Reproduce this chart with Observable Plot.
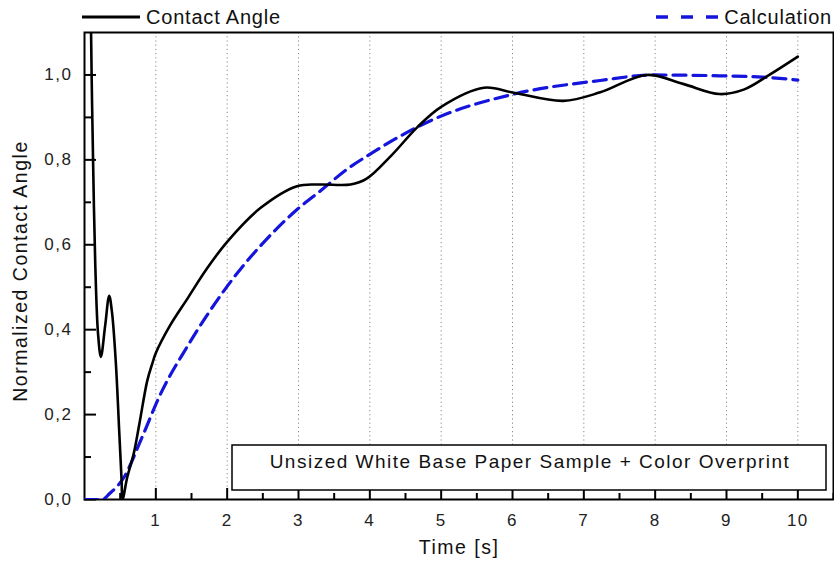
<!DOCTYPE html>
<html>
<head>
<meta charset="utf-8">
<script src="https://cdn.jsdelivr.net/npm/d3@7"></script>
<script src="https://cdn.jsdelivr.net/npm/@observablehq/plot@0.6"></script>
<style>
  body { margin: 0; background: #fff; font-family: "Liberation Sans", Arial, sans-serif; }
  #wrap { position: relative; width: 834px; height: 566px; overflow: hidden; }
  #legend { position: relative; width: 834px; height: 27px; }
  .item { position: absolute; top: 0; height: 34px; display: flex; align-items: center;
          font-size: 20px; letter-spacing: 0.8px; color: #111; }
  .item svg { display: block; margin-right: 4px; }
  #chart svg { display: block; }
</style>
</head>
<body>
<div id="wrap">
  <div id="legend">
    <div class="item" style="left:82px">
      <svg width="60" height="8"><line x1="0" x2="58" y1="4" y2="4" stroke="#000" stroke-width="3"/></svg>
      <span id="lgContact"></span>
    </div>
    <div class="item" style="right:2px">
      <svg width="64" height="8"><line x1="0" x2="62" y1="4" y2="4" stroke="#1414dc" stroke-width="3.5" stroke-dasharray="12,13"/></svg>
      <span id="lgCalc"></span>
    </div>
  </div>
  <div id="chart"></div>
</div>
<script>
// Measured contact angle (normalized) over time
const contactTime = [0.085, 0.1, 0.12, 0.15, 0.19, 0.23, 0.29, 0.346, 0.386, 0.44, 0.486, 0.52, 0.533,
  0.6, 0.69, 0.77, 0.88, 0.95, 1.0, 1.2, 1.45, 1.7, 2.0, 2.47, 2.98, 3.3, 3.73, 3.95, 4.3, 4.66,
  5.0, 5.6, 6.02, 6.71, 7.23, 7.88, 8.39, 8.9, 9.25, 9.6, 10.0];
const contactAngle = [1.2, 1.0, 0.8, 0.56, 0.39, 0.336, 0.41, 0.48, 0.44, 0.32, 0.163, 0.045, 0.0,
  0.053, 0.108, 0.179, 0.28, 0.32, 0.345, 0.41, 0.475, 0.54, 0.607, 0.687, 0.738, 0.742, 0.742, 0.755, 0.81, 0.876,
  0.925, 0.97, 0.958, 0.939, 0.959, 1.0, 0.979, 0.955, 0.966, 1.0, 1.043];

// Model calculation
const calcTime = [0, 0.25, 0.346, 0.556, 0.79, 1.07, 1.44, 2.0, 2.66, 2.98, 3.33, 3.68, 3.96, 4.9,
  6.02, 7.23, 7.97, 8.9, 9.5, 10.0];
const calcAngle = [0, 0, 0.013, 0.053, 0.14, 0.25, 0.36, 0.502, 0.632, 0.683, 0.73, 0.778, 0.809, 0.896,
  0.955, 0.987, 1.0, 0.998, 0.995, 0.988];

const seriesNames = ["Contact Angle", "Calculation"];
const xMajor = [1, 2, 3, 4, 5, 6, 7, 8, 9, 10];
const xMinor = [0.5, 1.5, 2.5, 3.5, 4.5, 5.5, 6.5, 7.5, 8.5, 9.5, 10.5];
const yMajor = [0, 0.2, 0.4, 0.6, 0.8, 1.0];
const yMinor = [0.1, 0.3, 0.5, 0.7, 0.9];
const xTitle = "Time [s]";
const yTitle = "Normalized Contact Angle";
const noteText = "Unsized White Base Paper Sample + Color Overprint";

document.getElementById("lgContact").textContent = seriesNames[0];
document.getElementById("lgCalc").textContent = seriesNames[1];

const contact = contactTime.map((t, i) => ({t, v: contactAngle[i]}));
const calc = calcTime.map((t, i) => ({t, v: calcAngle[i]}));
const comma = d => d.toFixed(1).replace(".", ",");

// plot geometry
const W = 834, H = 539, mT = 5, mB = 67, mL = 84, mR = 1;
const xDomain = [0, 10.5], yDomain = [0, 1.1];
const frameW = W - mL - mR, frameH = H - mT - mB;
// tick lengths: pixels converted to data units so the ticks point into the frame
const pxY = px => px * (yDomain[1] - yDomain[0]) / frameH;
const pxX = px => px * (xDomain[1] - xDomain[0]) / frameW;

const chart = Plot.plot({
  width: W,
  height: H,
  marginTop: mT,
  marginBottom: mB,
  marginLeft: mL,
  marginRight: mR,
  style: {
    fontFamily: '"Liberation Sans", Arial, sans-serif',
    fontSize: "17px",
    letterSpacing: "1.5px",
    color: "#222",
    background: "#fff",
    overflow: "visible"
  },
  x: {domain: xDomain},
  y: {domain: yDomain},
  marks: [
    Plot.gridX(xMajor, {stroke: "#8a8a8a", strokeOpacity: 1, strokeWidth: 1, strokeDasharray: "1.2,3"}),
    Plot.frame({stroke: "#000", strokeWidth: 2}),
    // inward ticks along the bottom and left edges
    Plot.ruleX(xMajor, {x: d => d, y1: () => yDomain[0], y2: () => yDomain[0] + pxY(11), stroke: "#000", strokeWidth: 2}),
    Plot.ruleX(xMinor, {x: d => d, y1: () => yDomain[0], y2: () => yDomain[0] + pxY(6), stroke: "#000", strokeWidth: 2}),
    Plot.ruleY(yMajor, {y: d => d, x1: () => xDomain[0], x2: () => xDomain[0] + pxX(12), stroke: "#000", strokeWidth: 2}),
    Plot.ruleY(yMinor, {y: d => d, x1: () => xDomain[0], x2: () => xDomain[0] + pxX(7), stroke: "#000", strokeWidth: 2}),
    Plot.line(calc, {x: "t", y: "v", stroke: "#1414dc", strokeWidth: 3.2,
      strokeDasharray: "13,7", curve: "monotone-x", clip: true}),
    Plot.line(contact, {x: "t", y: "v", stroke: "#000", strokeWidth: 2.6,
      curve: "catmull-rom", clip: true}),
    Plot.rect([noteText], {insetLeft: 148, insetRight: 7, insetTop: 413, insetBottom: 9,
      fill: "#fff", stroke: "#000", strokeWidth: 1.5}),
    Plot.text([noteText], {text: d => d, frameAnchor: "bottom", dx: 71, dy: -31.5,
      fontSize: 19, fill: "#111"}),
    // tick labels
    Plot.axisX(xMajor, {tickSize: 0, tickPadding: 14, tickFormat: d => String(d), label: null}),
    Plot.axisY(yMajor, {tickSize: 0, tickPadding: 12, tickFormat: comma, label: null}),
    // axis titles
    Plot.text([xTitle], {text: d => d, frameAnchor: "bottom", dy: 54, fontSize: 19.5, fill: "#111"}),
    Plot.text([yTitle], {text: d => d, frameAnchor: "left", textAnchor: "middle", rotate: -90,
      dx: -64, dy: 5, fontSize: 19.5, fill: "#111"})
  ]
});
document.getElementById("chart").appendChild(chart);
</script>
</body>
</html>
